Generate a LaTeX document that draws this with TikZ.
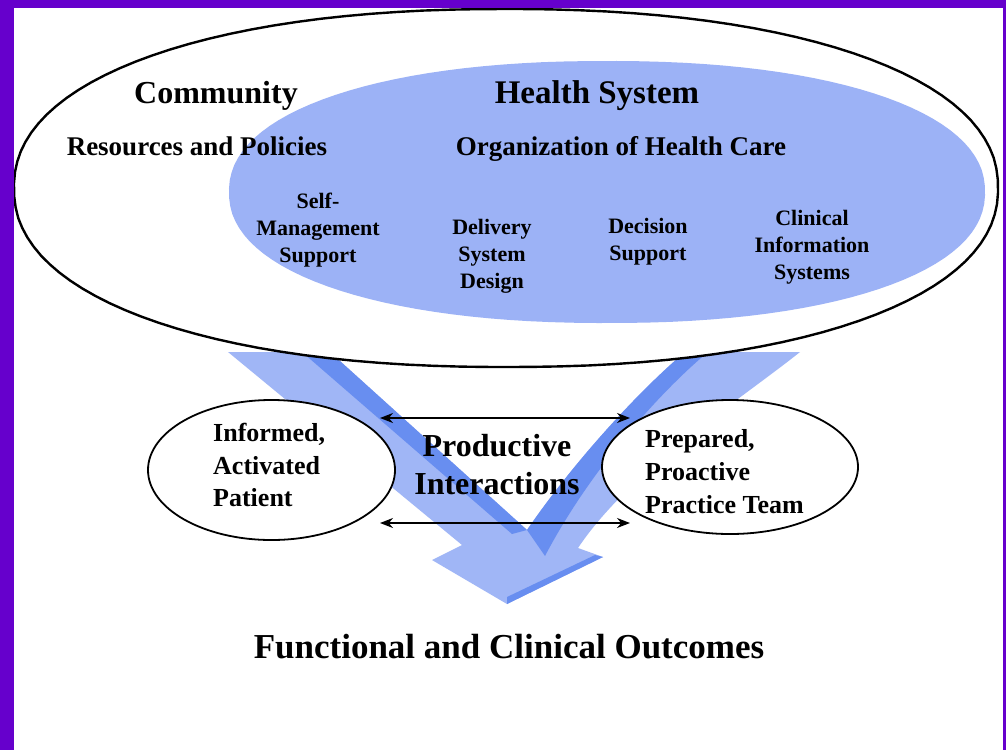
\documentclass[tikz,border=0pt]{standalone}
\usepackage{fontspec}
\setmainfont{Liberation Serif}
\usetikzlibrary{shapes.geometric,arrows.meta}
\definecolor{frame}{RGB}{102,0,204}
\definecolor{hsblue}{RGB}{156,178,246}
\definecolor{arrlight}{RGB}{160,182,246}
\definecolor{arrdark}{RGB}{104,142,240}
\begin{document}
\begin{tikzpicture}[x=1pt,y=-1pt,
  lbl/.style={font=\bfseries, inner sep=0pt, align=center},
  ell/.style={ellipse, draw, line width=1.8pt, fill=white, inner sep=0pt},
  dbl/.style={{Stealth[length=13pt,width=10pt]}-{Stealth[length=13pt,width=10pt]}, line width=1.7pt}]
\useasboundingbox (0,0) rectangle (1006,750);
\fill[white] (0,0) rectangle (1006,750);
% V-shaped arrow
\fill[arrlight] (228,352) -- (330,352) -- (527,530) .. controls (575,460) and (640,390) .. (685,352)
  -- (800,352) .. controls (740,400) and (630,470) .. (578,548) -- (603,557) -- (507,604)
  -- (432,560) -- (462,545) -- cycle;
\fill[arrdark] (302,352) -- (330,352) -- (527,530) -- (512,534) -- cycle;
\fill[arrdark] (685,352) .. controls (640,390) and (575,460) .. (527,530) -- (545,556)
  .. controls (590,470) and (660,392) .. (708,352) -- cycle;
\fill[arrdark] (507,604) -- (603,557) -- (595,555) -- (507,597) -- cycle;
% outer ellipse
\draw[line width=2.4pt, fill=white] plot[domain=1:358, samples=120]
  ({506+492*sign(cos(\x))*abs(cos(\x))^0.909},{188+179*sign(sin(\x))*abs(sin(\x))^0.909}) -- cycle;
% health system ellipse
\fill[hsblue] plot[domain=1:358, samples=120]
  ({607+378*sign(cos(\x))*abs(cos(\x))^0.909},{192+131*sign(sin(\x))*abs(sin(\x))^0.909}) -- cycle;
% top texts
\node[lbl, font=\bfseries\fontsize{32}{38}\selectfont, anchor=base] (comm) at (216,103) {Community};
\node[lbl, font=\bfseries\fontsize{33}{38}\selectfont, anchor=base] (hs) at (597,103) {Health System};
\node[lbl, font=\bfseries\fontsize{27}{32}\selectfont, anchor=base] (res) at (197,155) {Resources and Policies};
\node[lbl, font=\bfseries\fontsize{27}{32}\selectfont, anchor=base] (org) at (621,155) {Organization of Health Care};
% components
\node[lbl, font=\bfseries\fontsize{22}{27}\selectfont] (sms) at (318,230) {Self-\\Management\\Support};
\node[lbl, font=\bfseries\fontsize{22}{27}\selectfont] (dsd) at (492,256) {Delivery\\System\\Design};
\node[lbl, font=\bfseries\fontsize{22}{27}\selectfont] (ds) at (648,242) {Decision\\Support};
\node[lbl, font=\bfseries\fontsize{22}{27}\selectfont] (cis) at (812,247) {Clinical\\Information\\Systems};
% small ellipses
\node[ell, minimum width=247pt, minimum height=140pt] (pate) at (271.5,470) {};
\node[ell, minimum width=256pt, minimum height=134pt] (teame) at (730,467) {};
\node[lbl, align=left, font=\bfseries\fontsize{26}{32.5}\selectfont, anchor=west] (pat) at (213,465) {Informed,\\Activated\\Patient};
\node[lbl, align=left, font=\bfseries\fontsize{26}{33}\selectfont, anchor=west] (team) at (645,472) {Prepared,\\Proactive\\Practice Team};
% interactions
\coordinate (u1) at (380,418); \coordinate (u2) at (630,418);
\coordinate (l1) at (380,523); \coordinate (l2) at (630,523);
\draw[dbl] (u1) -- (u2);
\draw[dbl] (l1) -- (l2);
\node[lbl, font=\bfseries\fontsize{32}{38}\selectfont] (pi) at (497,465) {Productive\\Interactions};
\node[lbl, font=\bfseries\fontsize{35}{40}\selectfont, anchor=base] (out) at (509,658) {Functional and Clinical Outcomes};
% frame
\fill[frame] (0,0) rectangle (14,750);
\fill[frame] (0,0) rectangle (1006,7.5);
\fill[frame] (1003,0) rectangle (1006,750);
\end{tikzpicture}
\end{document}
